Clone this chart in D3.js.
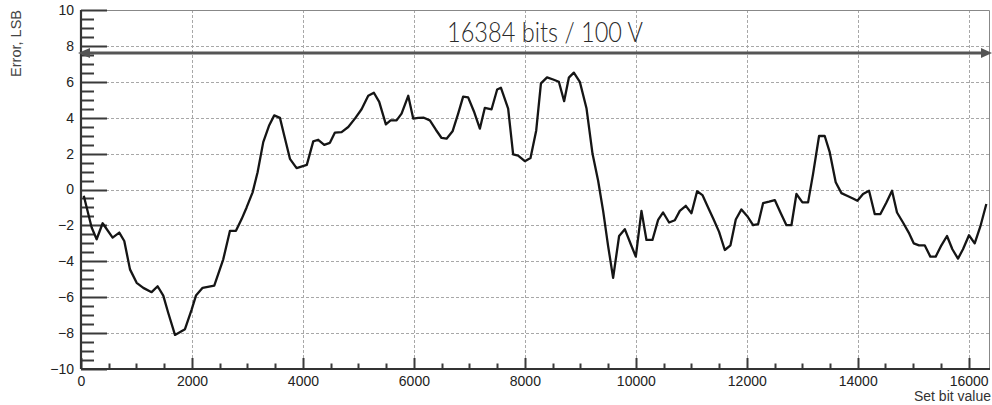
<!DOCTYPE html>
<html>
<head>
<meta charset="utf-8">
<script src="https://cdn.jsdelivr.net/npm/d3@7"></script>
<style>
  body { margin: 0; background: #fff; }
  svg { display: block; }
</style>
</head>
<body>
<div id="chart"></div>
<script>
// Set bit value (x) and error in LSB (y)
const bitValues = [50, 192, 282, 390, 570, 690, 780, 883, 1003, 1123, 1273, 1381, 1483, 1573, 1694, 1874,
  1994, 2072, 2192, 2402, 2564, 2685, 2793, 2895, 2985, 3093, 3183, 3285, 3393, 3483, 3586, 3663,
  3766, 3886, 4070, 4186, 4276, 4384, 4486, 4577, 4697, 4817, 4937, 5057, 5177, 5279, 5375, 5495,
  5580, 5688, 5778, 5898, 5988, 6078, 6180, 6288, 6396, 6499, 6589, 6697, 6798, 6888, 6978, 7081,
  7189, 7279, 7400, 7501, 7568, 7699, 7789, 7879, 8000, 8102, 8205, 8290, 8400, 8510, 8613, 8708,
  8793, 8883, 8991, 9112, 9220, 9321, 9411, 9501, 9591, 9699, 9802, 9904, 10000, 10102, 10192, 10300,
  10402, 10492, 10600, 10703, 10793, 10901, 11003, 11105, 11201, 11303, 11405, 11501, 11604, 11706, 11802, 11904,
  12006, 12114, 12204, 12294, 12402, 12505, 12607, 12715, 12805, 12895, 13003, 13105, 13195, 13303, 13405, 13495,
  13603, 13706, 13807, 13904, 13994, 14096, 14204, 14306, 14409, 14517, 14618, 14708, 14816, 14919, 15009, 15105,
  15207, 15309, 15405, 15508, 15609, 15706, 15807, 15897, 16005, 16108, 16210, 16318];
const errorLsb = [-0.35, -2.12, -2.77, -1.88, -2.68, -2.4, -2.87, -4.45, -5.2, -5.48, -5.72, -5.39, -5.91, -6.88, -8.1, -7.78,
  -6.69, -5.91, -5.48, -5.35, -3.89, -2.3, -2.3, -1.65, -1.0, -0.16, 0.96, 2.64, 3.58, 4.13, 3.99, 3.01,
  1.71, 1.19, 1.37, 2.68, 2.77, 2.49, 2.6, 3.17, 3.2, 3.48, 3.95, 4.47, 5.22, 5.39, 4.88, 3.63,
  3.85, 3.85, 4.23, 5.22, 3.95, 3.99, 4.0, 3.85, 3.33, 2.87, 2.83, 3.24, 4.23, 5.17, 5.13, 4.36,
  3.39, 4.55, 4.47, 5.57, 5.67, 4.51, 1.95, 1.89, 1.58, 1.76, 3.29, 5.91, 6.25, 6.13, 6.0, 4.92,
  6.23, 6.51, 6.0, 4.51, 1.99, 0.49, -1.19, -3.15, -4.92, -2.59, -2.21, -3.01, -3.74, -1.19, -2.81, -2.81,
  -1.69, -1.28, -1.84, -1.71, -1.19, -0.91, -1.32, -0.1, -0.31, -1.0, -1.69, -2.36, -3.37, -3.11, -1.67, -1.11,
  -1.47, -1.99, -1.93, -0.76, -0.68, -0.59, -1.28, -1.99, -1.99, -0.25, -0.72, -0.72, 0.87, 2.98, 2.98, 2.08,
  0.4, -0.2, -0.35, -0.49, -0.63, -0.25, -0.07, -1.37, -1.37, -0.72, -0.07, -1.28, -1.84, -2.4, -3.0, -3.11,
  -3.11, -3.74, -3.74, -3.11, -2.59, -3.33, -3.85, -3.33, -2.55, -3.0, -2.06, -0.81];

const xTicks = [0, 2000, 4000, 6000, 8000, 10000, 12000, 14000, 16000];
const xMinorTicks = d3.range(0, 16384, 500).filter(v => v % 2000 !== 0);
const yTicks = [-10, -8, -6, -4, -2, 0, 2, 4, 6, 8, 10];
const yMinorTicks = d3.range(-10, 10.01, 0.5).filter(v => v % 2 !== 0);

const xDomain = [0, 16384];
const yDomain = [-10, 10];
const rangeLabel = '16384 bits / 100 V';
const rangeLevel = 7.6;

const W = 992, H = 405;
const margin = { left: 81, right: 2, top: 10, bottom: 36 };
const font = '"Liberation Sans", Arial, sans-serif';

const svg = d3.select('#chart').append('svg')
  .attr('width', W)
  .attr('height', H);

const x = d3.scaleLinear().domain(xDomain).range([margin.left, W - margin.right]);
const y = d3.scaleLinear().domain(yDomain).range([H - margin.bottom, margin.top]);

const data = bitValues.map((b, i) => ({ bit: b, err: errorLsb[i] }));
const px = v => Math.round(v) + 0.5;

// Grid
const grid = svg.append('g').attr('class', 'grid')
  .attr('stroke', '#a8a8a8')
  .attr('stroke-width', 1)
  .attr('stroke-dasharray', '3,2');
grid.selectAll('line.gx')
  .data(xTicks.filter(v => v > 0))
  .enter().append('line')
  .attr('class', 'gx')
  .attr('x1', d => px(x(d)))
  .attr('x2', d => px(x(d)))
  .attr('y1', y(10))
  .attr('y2', y(-10));
grid.selectAll('line.gy')
  .data(yTicks.filter(v => v > -10 && v < 10))
  .enter().append('line')
  .attr('class', 'gy')
  .attr('x1', x(0))
  .attr('x2', x(16384))
  .attr('y1', d => px(y(d)))
  .attr('y2', d => px(y(d)));

// Frame (top + right)
svg.append('path')
  .attr('d', `M${x(0)},${y(10) + 0.5}H${x(16384) - 0.5}V${y(-10)}`)
  .attr('fill', 'none')
  .attr('stroke', '#888')
  .attr('stroke-width', 1);

// Axes: labels from d3 axes
svg.append('g')
  .attr('class', 'y axis')
  .attr('transform', `translate(${x(0)},0)`)
  .call(d3.axisLeft(y).tickValues(yTicks).tickSize(0).tickPadding(7));
svg.append('g')
  .attr('class', 'x axis')
  .attr('transform', `translate(0,${y(-10)})`)
  .call(d3.axisBottom(x).tickValues(xTicks).tickSize(0).tickPadding(7).tickFormat(d3.format('d')));
svg.selectAll('.axis .domain').remove();
svg.selectAll('.axis .tick line').remove();
svg.selectAll('.axis .tick text')
  .attr('font-family', font)
  .attr('font-size', 14)
  .attr('fill', '#222');

// Tick marks, drawn inward
const tickPath = [];
yTicks.concat(yMinorTicks).forEach(d => {
  tickPath.push(`M${x(0)},${px(y(d))}h${yTicks.includes(d) ? 26 : 13}`);
});
xTicks.concat(xMinorTicks).forEach(d => {
  tickPath.push(`M${px(x(d))},${y(-10)}v${xTicks.includes(d) ? -11 : -5.5}`);
});
svg.append('path')
  .attr('class', 'tickmarks')
  .attr('d', tickPath.join(''))
  .attr('fill', 'none')
  .attr('stroke', '#3a3a3a')
  .attr('stroke-width', 2);

// axis lines
svg.append('line')
  .attr('x1', x(0)).attr('x2', x(0))
  .attr('y1', y(10)).attr('y2', y(-10))
  .attr('stroke', '#333').attr('stroke-width', 2.2);
svg.append('line')
  .attr('x1', x(0)).attr('x2', x(16384))
  .attr('y1', y(-10)).attr('y2', y(-10))
  .attr('stroke', '#333').attr('stroke-width', 2);

// Axis titles
svg.append('text')
  .attr('x', W - 1)
  .attr('y', 401)
  .attr('text-anchor', 'end')
  .attr('font-family', font)
  .attr('font-size', 14)
  .attr('fill', '#333')
  .text('Set bit value');
svg.append('text')
  .attr('transform', 'translate(21,10) rotate(-90)')
  .attr('text-anchor', 'end')
  .attr('font-family', font)
  .attr('font-size', 14.5)
  .attr('fill', '#444')
  .text('Error, LSB');

// Data line
const line = d3.line()
  .x(d => x(d.bit))
  .y(d => y(d.err));
svg.append('path')
  .datum(data)
  .attr('d', line)
  .attr('fill', 'none')
  .attr('stroke', '#151515')
  .attr('stroke-width', 2.3)
  .attr('stroke-linejoin', 'round');

// Range arrow + label
const ay = y(rangeLevel);
svg.append('line')
  .attr('x1', x(0) + 4).attr('x2', x(16384) - 6)
  .attr('y1', ay).attr('y2', ay)
  .attr('stroke', '#555')
  .attr('stroke-width', 3);
svg.append('path')
  .attr('d', `M${x(0) - 3},${ay}L${x(0) + 9},${ay - 5}L${x(0) + 9},${ay + 5}Z`)
  .attr('fill', '#555');
svg.append('path')
  .attr('d', `M${x(16384) + 2},${ay}L${x(16384) - 9},${ay - 5}L${x(16384) - 9},${ay + 5}Z`)
  .attr('fill', '#555');
svg.append('text')
  .attr('x', 447)
  .attr('y', 42)
  .attr('textLength', 196)
  .attr('lengthAdjust', 'spacingAndGlyphs')
  .attr('font-family', 'Lato, "Open Sans", sans-serif')
  .attr('font-weight', 300)
  .attr('font-size', 27)
  .attr('fill', '#2a2a2a')
  .text(rangeLabel);
</script>
</body>
</html>
